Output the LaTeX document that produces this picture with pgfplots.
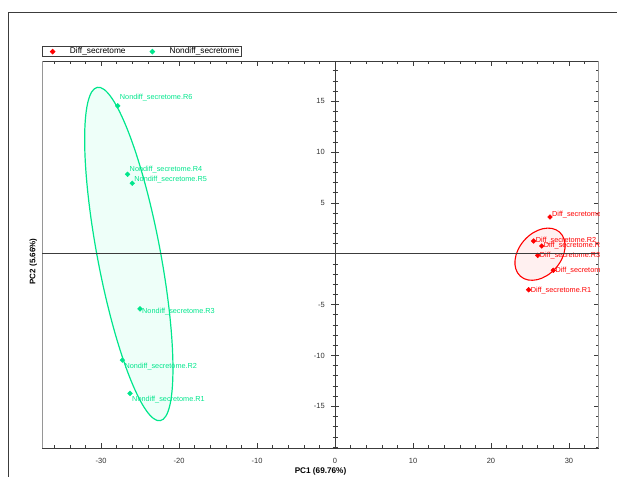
\documentclass[border=0pt]{standalone}
\usepackage{fontspec}
\setmainfont{Liberation Sans}
\usepackage{pgfplots}
\pgfplotsset{compat=1.18}
\usepackage{pgfplotstable}
\definecolor{ngreen}{RGB}{0,230,140}
\definecolor{dred}{RGB}{255,0,0}
\definecolor{gfill}{RGB}{238,255,249}
\definecolor{rfill}{RGB}{255,240,240}
\definecolor{frame}{RGB}{60,60,60}
\definecolor{lframe}{RGB}{150,150,150}

\pgfplotstableread{
x y dy lab
-27.86 14.54 8.4 Nondiff\_secretome.R6
-26.60 7.81 4.3 Nondiff\_secretome.R4
-26.00 6.93 4.0 Nondiff\_secretome.R5
-25.00 -5.42 -2.7 Nondiff\_secretome.R3
-27.27 -10.46 -6.0 Nondiff\_secretome.R2
-26.28 -13.73 -6.7 Nondiff\_secretome.R1
}\tabnondiff

\pgfplotstableread{
x y dy lab
27.56 3.61 2.0 Diff\_secretome.R4
25.47 1.25 0.0 Diff\_secretome.R2
26.50 0.76 0.0 Diff\_secretome.R5
25.99 -0.16 -0.7 Diff\_secretome.R3
27.99 -1.63 -0.7 Diff\_secretome.R6
24.83 -3.54 -1.0 Diff\_secretome.R1
}\tabdiff

\newcommand{\lab}{\fontsize{7.3}{8}\selectfont}
\newcommand{\tck}{\fontsize{7.5}{8}\selectfont}

\begin{document}
\begin{tikzpicture}
\useasboundingbox (0,0) rectangle (617pt,476pt);
% outer frame
\draw[frame, line width=0.8pt] (8.7pt,-5pt) -- (8.7pt,463.7pt) -- (630pt,463.7pt);
% confidence ellipses (drawn behind the points)
\draw[shift={(128.8pt,222pt)}, rotate=100.7, draw=ngreen, fill=gfill, line width=1.2pt]
  (0,0) ellipse [x radius=169.6pt, y radius=31.5pt];
\draw[shift={(540pt,221.8pt)}, rotate=48.4, draw=dred, fill=rfill, line width=1.1pt]
  (0,0) ellipse [x radius=29.5pt, y radius=21pt];

\begin{scope}
\clip (0,0) rectangle (599.2pt,476pt);
\begin{axis}[
  at={(42.3pt,27.7pt)}, anchor=south west,
  scale only axis, width=556.4pt, height=387.3pt,
  xmin=-37.53, xmax=33.81, ymin=-19.13, ymax=18.95,
  xtick={-40,-30,...,40}, ytick={-20,-15,...,20},
  minor x tick num=4, minor y tick num=4,
  xtick pos=both, xticklabel pos=bottom,
  ytick pos=right, yticklabels={},
  tick align=inside,
  major tick length=5pt, minor tick length=3pt,
  tick style={frame, line width=0.6pt},
  separate axis lines,
  x axis line style={frame, line width=0.8pt},
  y axis line style={lframe, line width=0.8pt},
  /pgf/number format/assume math mode=true,
  xticklabel style={font=\tck, anchor=center, yshift=-12.7pt, text=black!80},
  xlabel={PC1 (69.76\%)},
  ylabel={PC2 (5.66\%)},
  xlabel style={font=\bfseries\fontsize{8.2}{9}\selectfont, at={(axis description cs:0.5,-0.0604)}, anchor=center},
  ylabel style={font=\bfseries\fontsize{8}{9}\selectfont, at={(axis description cs:-0.0162,0.4823)}, anchor=center},
  legend columns=2,
  legend style={at={(0,1)}, anchor=south west, yshift=4pt, draw=frame, line width=0.7pt,
    inner xsep=2.6pt, inner ysep=0pt, font=\fontsize{8.3}{9}\selectfont,
    nodes={inner sep=0pt},
    /tikz/every even column/.append style={column sep=19.3pt}},
  legend image code/.code={\path[draw=none, fill=none] (-7.4pt,-5pt) rectangle (17.3pt,5pt); \draw[#1] plot coordinates {(0pt,0pt)};},
]
\addlegendimage{only marks, mark=square*, mark size=1.7pt, mark options={rotate=45}, color=dred}
\addlegendentry{Diff\_secretome}
\addlegendimage{only marks, mark=square*, mark size=1.7pt, mark options={rotate=45}, color=ngreen}
\addlegendentry{Nondiff\_secretome}

\addplot[only marks, mark=square*, mark size=1.7pt, mark options={rotate=45}, color=dred, forget plot,
  nodes near coords, point meta=explicit symbolic,
  visualization depends on={\thisrow{dy} \as \dy},
  nodes near coords style={anchor=west, xshift=2pt, yshift=\dy, font=\lab, text=dred, inner sep=0pt}]
  table[x=x, y=y, meta=lab] {\tabdiff};

\addplot[only marks, mark=square*, mark size=1.7pt, mark options={rotate=45}, color=ngreen, forget plot,
  nodes near coords, point meta=explicit symbolic,
  visualization depends on={\thisrow{dy} \as \dy},
  nodes near coords style={anchor=west, xshift=2pt, yshift=\dy, font=\lab, text=ngreen, inner sep=0pt}]
  table[x=x, y=y, meta=lab] {\tabnondiff};
\end{axis}
\end{scope}

\begin{axis}[
  at={(42.3pt,27.7pt)}, anchor=south west,
  scale only axis, width=556.4pt, height=387.3pt,
  xmin=-37.53, xmax=33.81, ymin=-19.13, ymax=18.95,
  axis x line=center, axis y line=center,
  every inner x axis line/.style={-},
  every inner y axis line/.style={-},
  axis line style={-, frame, line width=0.8pt},
  xtick=\empty,
  ytick={-20,-15,...,20}, minor y tick num=4,
  tick align=center,
  major tick length=7.5pt, minor tick length=5pt,
  tick style={frame, line width=0.6pt},
  /pgf/number format/assume math mode=true,
  yticklabel style={font=\tck, anchor=east, inner sep=0pt, xshift=-6.3pt, text=black!80},
]
\end{axis}
\end{tikzpicture}
\end{document}
